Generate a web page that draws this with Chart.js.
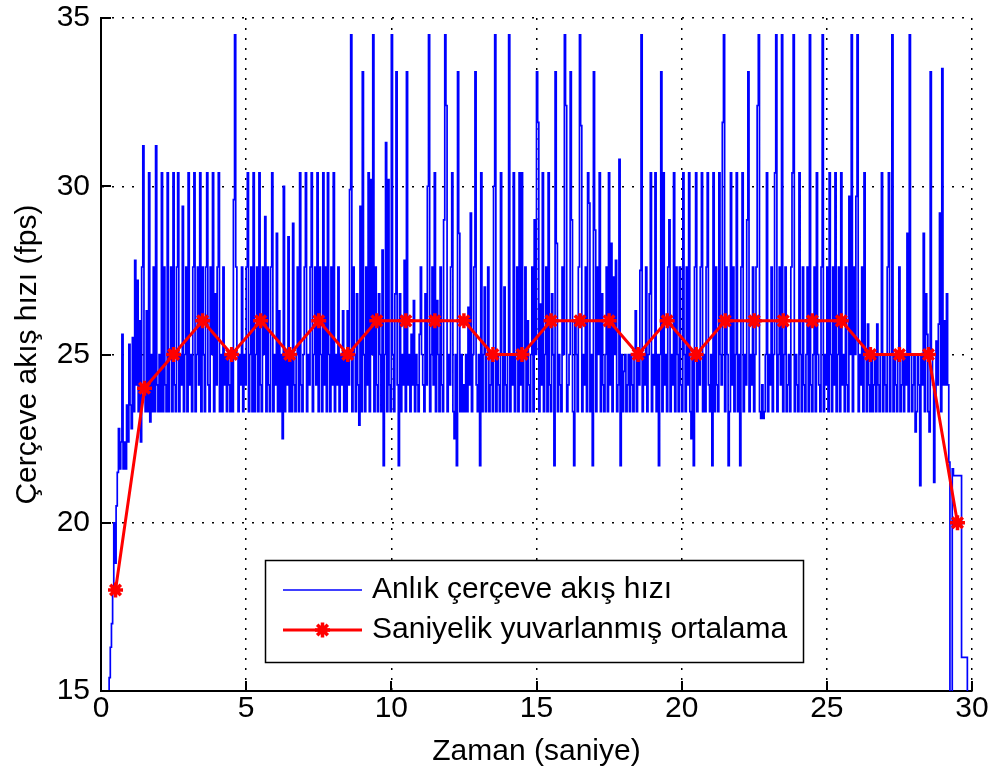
<!DOCTYPE html>
<html>
<head>
<meta charset="utf-8">
<style>
  html, body { margin: 0; padding: 0; background: #ffffff; }
  #wrap { width: 1000px; height: 780px; position: relative; }
</style>
<script src="https://cdn.jsdelivr.net/npm/chart.js@4.4.1/dist/chart.umd.min.js"></script>
</head>
<body>
<div id="wrap"><canvas id="fpsChart" width="1000" height="780"></canvas></div>
<script>
// Frame-rate log: one sample every frameStep seconds, starting at frameStart.
const frameStart = 0.24;
const frameStep = 0.04;
const frameRate = [
  13, 15.4, 16.3, 17.0, 18.0, 20.0, 18.8, 20.5, 21.5, 22.8, 21.6, 22.4, 25.6, 21.6, 22.4, 21.6, 23.5, 22.4, 25.3, 23.5, 22.8, 25.5, 23.3, 27.8, 24.1,
  27.2, 23.3, 26.0, 22.4, 27.6, 31.2, 24.1, 23.3, 26.3, 23.3, 30.4, 23.0, 25.0, 23.3, 27.6, 23.3, 31.2, 24.1, 23.3, 25.0, 23.3, 30.4, 23.3, 27.6, 24.1,
  23.3, 30.4, 23.3, 25.0, 27.6, 23.3, 30.4, 24.1, 23.3, 27.6, 30.4, 23.3, 25.0, 24.1, 29.4, 23.3, 25.0, 27.6, 23.3, 30.4, 24.1, 25.0, 23.3, 27.6, 30.4,
  23.3, 25.0, 27.6, 24.1, 30.4, 23.3, 27.6, 25.0, 23.3, 27.6, 30.4, 24.1, 23.3, 27.6, 25.0, 30.4, 23.3, 26.8, 24.1, 27.6, 30.4, 23.3, 25.0, 23.3, 27.6,
  24.1, 25.0, 23.3, 25.0, 24.1, 23.3, 25.0, 23.3, 29.6, 34.5, 27.6, 25.0, 23.3, 25.0, 24.1, 27.6, 23.3, 25.0, 24.1, 27.6, 30.4, 23.3, 25.0, 27.6, 23.3,
  30.4, 23.3, 25.0, 27.6, 23.3, 30.4, 24.1, 23.3, 27.6, 25.0, 29.1, 23.3, 27.6, 24.1, 23.3, 27.6, 30.4, 23.3, 25.0, 24.1, 28.6, 23.3, 26.3, 23.3, 25.0,
  22.5, 30.0, 23.3, 25.0, 24.1, 28.5, 23.3, 25.0, 23.3, 28.9, 24.1, 23.3, 25.0, 27.6, 23.3, 30.4, 24.1, 23.3, 25.0, 27.6, 30.4, 23.3, 25.0, 24.1, 27.6,
  30.4, 23.3, 25.0, 27.6, 24.1, 30.4, 23.3, 27.6, 25.0, 23.3, 30.4, 24.1, 27.6, 23.3, 30.4, 25.0, 23.3, 27.6, 24.1, 30.4, 23.3, 25.0, 24.1, 27.6, 23.3,
  25.0, 24.1, 26.3, 23.3, 25.0, 23.3, 26.3, 24.1, 29.9, 34.5, 23.3, 27.6, 25.0, 23.3, 26.8, 24.1, 22.9, 29.4, 23.3, 33.4, 25.0, 23.3, 27.6, 24.1, 30.4,
  23.3, 30.2, 25.0, 34.5, 23.3, 27.6, 24.1, 23.3, 26.8, 25.0, 23.3, 28.1, 21.7, 25.0, 31.3, 23.3, 30.2, 24.1, 23.3, 34.5, 25.0, 23.3, 26.8, 33.4, 24.1,
  21.7, 26.8, 23.3, 25.0, 24.1, 27.8, 23.3, 33.4, 24.1, 25.0, 23.3, 25.6, 24.1, 26.6, 23.3, 25.0, 24.1, 23.3, 25.6, 27.6, 25.0, 24.1, 23.3, 26.8, 24.1,
  30.0, 34.5, 23.3, 25.0, 27.6, 24.1, 30.4, 23.3, 26.6, 25.0, 23.3, 27.6, 24.1, 23.3, 29.0, 34.5, 32.4, 23.3, 25.0, 24.1, 27.6, 30.4, 23.3, 22.5, 25.0,
  21.7, 33.4, 28.6, 23.3, 25.0, 23.3, 24.1, 23.3, 25.0, 23.3, 26.4, 24.1, 29.2, 23.3, 25.0, 27.6, 33.4, 24.1, 23.3, 25.0, 21.7, 30.4, 23.3, 25.0, 27.0,
  23.3, 25.0, 27.6, 23.3, 24.1, 25.0, 23.3, 30.0, 34.5, 23.3, 25.0, 24.1, 23.3, 30.4, 25.0, 23.3, 27.0, 24.1, 23.3, 25.0, 34.5, 23.3, 25.0, 24.1, 30.4,
  23.3, 25.0, 27.6, 23.3, 30.4, 24.1, 30.4, 23.3, 25.0, 27.6, 23.3, 26.0, 24.1, 23.3, 25.0, 27.6, 23.3, 29.0, 25.0, 33.4, 31.9, 23.3, 26.5, 24.1, 30.4,
  23.3, 25.0, 27.6, 23.3, 30.4, 24.1, 23.3, 26.8, 25.0, 21.7, 33.4, 28.3, 23.3, 25.0, 24.1, 23.3, 27.6, 25.0, 34.5, 32.4, 23.3, 24.1, 25.0, 33.4, 29.0,
  23.3, 21.7, 26.0, 25.0, 23.3, 27.6, 34.5, 31.8, 23.3, 25.0, 24.1, 27.6, 23.3, 30.4, 29.5, 23.3, 25.0, 21.7, 33.4, 28.7, 23.3, 27.6, 25.0, 30.4, 23.3,
  26.8, 24.1, 23.3, 25.0, 27.6, 23.3, 30.4, 24.1, 28.3, 23.3, 27.3, 25.0, 27.8, 23.3, 24.1, 30.8, 21.7, 25.0, 23.3, 24.5, 25.0, 23.3, 24.1, 25.0, 23.3,
  25.0, 24.1, 23.3, 25.0, 26.3, 23.3, 25.0, 24.1, 27.5, 34.5, 23.3, 25.0, 24.1, 27.6, 23.3, 25.0, 26.8, 30.4, 23.3, 25.0, 24.1, 30.4, 23.3, 25.0, 21.7,
  25.0, 33.4, 23.3, 30.4, 24.1, 25.0, 23.3, 27.6, 29.0, 23.3, 25.0, 24.1, 30.4, 23.3, 27.6, 25.0, 23.3, 27.6, 24.1, 23.3, 30.4, 25.0, 23.3, 27.6, 24.1,
  30.4, 23.3, 22.5, 25.0, 21.7, 27.6, 30.4, 23.3, 25.0, 24.1, 27.6, 30.4, 23.3, 25.0, 23.3, 27.6, 30.4, 24.1, 23.3, 25.0, 21.7, 30.4, 23.3, 27.6, 24.1,
  23.3, 30.4, 25.0, 24.1, 31.9, 34.5, 23.3, 27.6, 25.0, 21.7, 23.3, 30.4, 24.1, 27.6, 23.3, 25.0, 30.4, 23.3, 25.0, 21.7, 27.6, 30.4, 23.3, 25.0, 24.1,
  29.0, 33.4, 23.3, 25.0, 24.1, 27.6, 23.3, 25.0, 27.6, 32.4, 34.5, 23.3, 23.1, 24.1, 23.1, 23.3, 25.0, 30.4, 23.3, 25.0, 24.1, 27.6, 23.3, 25.0, 30.4,
  34.5, 23.3, 25.0, 27.6, 24.1, 34.5, 23.3, 25.0, 27.6, 23.3, 24.1, 25.0, 23.3, 27.6, 30.4, 34.5, 23.3, 25.0, 24.1, 23.3, 30.4, 25.0, 23.3, 27.6, 24.1,
  23.3, 25.0, 27.6, 23.3, 34.5, 24.1, 23.3, 25.0, 27.6, 23.3, 30.4, 25.0, 24.1, 23.3, 27.6, 34.5, 23.3, 25.0, 24.1, 27.6, 23.3, 30.4, 25.0, 23.3, 27.6,
  24.1, 30.4, 23.3, 25.0, 27.6, 23.3, 30.4, 24.1, 25.0, 23.3, 27.6, 24.1, 23.3, 29.7, 25.0, 34.5, 23.3, 27.6, 25.0, 29.7, 34.5, 23.3, 25.0, 24.1, 27.6,
  23.3, 30.4, 25.0, 23.3, 25.9, 24.1, 23.3, 25.0, 23.3, 24.1, 25.0, 23.3, 25.9, 24.1, 23.3, 25.0, 30.4, 23.3, 25.0, 24.1, 23.3, 27.6, 30.4, 23.3, 25.0,
  34.5, 23.3, 25.0, 24.1, 23.3, 25.0, 27.6, 23.3, 24.1, 25.0, 23.3, 25.0, 24.1, 28.6, 23.3, 34.5, 25.0, 23.3, 24.1, 25.0, 22.7, 23.3, 25.0, 24.1, 21.1,
  25.0, 24.1, 28.6, 23.3, 26.8, 25.6, 23.3, 22.7, 33.4, 25.0, 24.1, 21.2, 23.8, 25.4, 24.1, 25.9, 29.2, 23.3, 33.5, 24.1, 26.0, 24.1, 26.8, 24.1, 21.8,
  10, 10, 21.6, 21.4, 21.4, 21.4, 21.4, 21.4, 21.4, 21.4, 16.0, 16.0, 16.0, 16.0, 16.0, 10
];

// Rounded mean frame rate of each one-second window, placed at the window centre.
const secondMid = [0.5, 1.5, 2.5, 3.5, 4.5, 5.5, 6.5, 7.5, 8.5, 9.5, 10.5, 11.5, 12.5, 13.5, 14.5,
                   15.5, 16.5, 17.5, 18.5, 19.5, 20.5, 21.5, 22.5, 23.5, 24.5, 25.5, 26.5, 27.5, 28.5, 29.5];
const secondAvg = [18, 24, 25, 26, 25, 26, 25, 26, 25, 26, 26, 26, 26, 25, 25,
                   26, 26, 26, 25, 26, 25, 26, 26, 26, 26, 26, 25, 25, 25, 20];

const seriesNames = ['Anlık çerçeve akış hızı', 'Saniyelik yuvarlanmış ortalama'];
const xTitle = 'Zaman (saniye)';
const yTitle = 'Çerçeve akış hızı (fps)';
const xLimits = [0, 30];
const yLimits = [15, 35];
const tickStep = 5;

const FONT = "'Liberation Sans', Arial, Helvetica, sans-serif";
const BLUE = '#0000ff';
const RED = '#ff0000';

const framePoints = frameRate.map((v, i) => ({ x: frameStart + i * frameStep, y: v }));
const averagePoints = secondMid.map((t, i) => ({ x: t, y: secondAvg[i] }));

// Asterisk marker (same shape as Chart.js 'star')
function drawAsterisk(ctx, x, y, r) {
  const d = r * Math.SQRT1_2;
  ctx.beginPath();
  ctx.moveTo(x - r, y); ctx.lineTo(x + r, y);
  ctx.moveTo(x, y - r); ctx.lineTo(x, y + r);
  ctx.moveTo(x - d, y - d); ctx.lineTo(x + d, y + d);
  ctx.moveTo(x - d, y + d); ctx.lineTo(x + d, y - d);
  ctx.stroke();
}

// Inward tick marks on the left and bottom axes
const inwardTicks = {
  id: 'inwardTicks',
  afterDatasetsDraw(chart) {
    const { ctx, chartArea: a, scales: { x, y } } = chart;
    ctx.save();
    ctx.strokeStyle = '#000';
    ctx.lineWidth = 2;
    ctx.beginPath();
    x.ticks.forEach(t => {
      const px = Math.round(x.getPixelForValue(t.value));
      ctx.moveTo(px, a.bottom); ctx.lineTo(px, a.bottom - 10);
    });
    y.ticks.forEach(t => {
      const py = Math.round(y.getPixelForValue(t.value));
      ctx.moveTo(a.left, py); ctx.lineTo(a.left + 10, py);
    });
    ctx.stroke();
    ctx.restore();
  }
};

// Boxed legend inside the plot area
const boxedLegend = {
  id: 'boxedLegend',
  afterDraw(chart) {
    const ctx = chart.ctx;
    const bx = 265, by = 560, bw = 538, bh = 102;
    ctx.save();
    ctx.fillStyle = '#ffffff';
    ctx.fillRect(bx, by, bw, bh);
    ctx.strokeStyle = '#000';
    ctx.lineWidth = 1.5;
    ctx.strokeRect(bx + 0.5, by + 0.5, bw, bh);

    const rows = [by + 30, by + 70];
    const x0 = 283, x1 = 362, tx = 372;

    ctx.strokeStyle = BLUE;
    ctx.lineWidth = 1.7;
    ctx.beginPath(); ctx.moveTo(x0, rows[0]); ctx.lineTo(x1, rows[0]); ctx.stroke();

    ctx.strokeStyle = RED;
    ctx.lineWidth = 3;
    ctx.beginPath(); ctx.moveTo(x0, rows[1]); ctx.lineTo(x1, rows[1]); ctx.stroke();
    ctx.lineWidth = 3.5;
    drawAsterisk(ctx, (x0 + x1) / 2, rows[1], 7.5);

    ctx.fillStyle = '#000';
    ctx.font = '30px ' + FONT;
    ctx.textBaseline = 'middle';
    ctx.textAlign = 'left';
    ctx.fillText(seriesNames[0], tx, rows[0]);
    ctx.fillText(seriesNames[1], tx, rows[1]);
    ctx.restore();
  }
};

Chart.defaults.font.family = FONT;
Chart.defaults.color = '#000';

new Chart(document.getElementById('fpsChart'), {
  type: 'line',
  data: {
    datasets: [
      {
        label: seriesNames[1],
        data: averagePoints,
        borderColor: RED,
        backgroundColor: RED,
        borderWidth: 3,
        pointStyle: 'star',
        pointRadius: 7.5,
        pointBorderWidth: 3.5,
        pointBorderColor: RED,
        pointBackgroundColor: RED,
        order: 1
      },
      {
        label: seriesNames[0],
        data: framePoints,
        borderColor: BLUE,
        borderWidth: 1.7,
        stepped: 'before',
        pointRadius: 0,
        borderJoinStyle: 'miter',
        order: 2
      }
    ]
  },
  options: {
    responsive: false,
    devicePixelRatio: 1,
    animation: false,
    events: [],
    layout: { padding: { top: 18, right: 28, bottom: 0, left: 0 } },
    plugins: { legend: { display: false }, tooltip: { enabled: false } },
    scales: {
      x: {
        type: 'linear',
        min: xLimits[0],
        max: xLimits[1],
        afterFit(scale) { scale.height = 89; scale.paddingLeft = 0; scale.paddingRight = 0; },
        ticks: { stepSize: tickStep, font: { size: 30 }, color: '#000', padding: 0, maxRotation: 0 },
        grid: { color: '#000', lineWidth: 1.5, drawTicks: false },
        border: { display: true, color: '#000', width: 2, dash: [2, 8] },
        title: { display: true, text: xTitle, font: { size: 30 }, color: '#000', padding: { top: 0, bottom: 10 } }
      },
      y: {
        type: 'linear',
        min: yLimits[0],
        max: yLimits[1],
        afterFit(scale) { scale.width = 101; scale.paddingTop = 0; scale.paddingBottom = 0; },
        ticks: { stepSize: tickStep, font: { size: 30 }, color: '#000', padding: 11 },
        grid: { color: '#000', lineWidth: 1.5, drawTicks: false },
        border: { display: true, color: '#000', width: 2, dash: [2, 8] },
        title: { display: true, text: yTitle, font: { size: 30 }, color: '#000', padding: { top: 10, bottom: 0 } }
      }
    }
  },
  plugins: [inwardTicks, boxedLegend]
});
</script>
</body>
</html>
